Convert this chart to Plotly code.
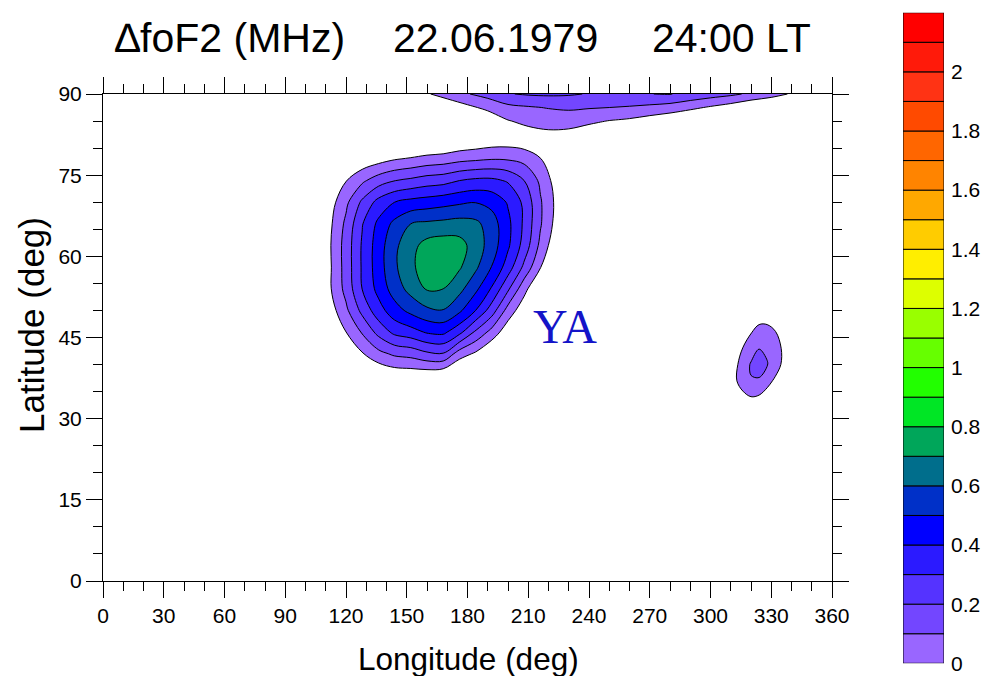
import plotly.graph_objects as go

W, H = 994, 676

# ---------------- colour levels (ΔfoF2, MHz) ----------------
LEVELS = [0.0, 0.1, 0.2, 0.3, 0.4, 0.5, 0.6, 0.7, 0.8, 0.9, 1.0, 1.1,
          1.2, 1.3, 1.4, 1.5, 1.6, 1.7, 1.8, 1.9, 2.0, 2.1, 2.2]
LEVEL_COLORS = ["#9966FF", "#7346FF", "#5533FF", "#2B1AFF", "#0000FF", "#0030C8",
                "#006E8C", "#00A65A", "#00E625", "#22FF00", "#66FF00", "#99FF00",
                "#DDFF00", "#FFEE00", "#FFCC00", "#FFA800", "#FF8400", "#FF6600",
                "#FF4A00", "#FF3314", "#FF1A0A", "#FF0000"]
CB_TICKS = [0, 0.2, 0.4, 0.6, 0.8, 1.0, 1.2, 1.4, 1.6, 1.8, 2.0]
CB_TICKTEXT = ["0", "0.2", "0.4", "0.6", "0.8", "1", "1.2", "1.4", "1.6", "1.8", "2"]

X_TICKS = [0, 30, 60, 90, 120, 150, 180, 210, 240, 270, 300, 330, 360]
Y_TICKS = [0, 15, 30, 45, 60, 75, 90]

# ---------------- main anomaly ----------------
BLOB_LON = [104, 112, 120, 128, 136, 144, 152, 160, 168, 176, 184, 192, 200, 208, 216, 224, 232]
BLOB_LAT = [34, 38, 42, 46, 50, 54, 58, 62, 66, 70, 74, 78, 82, 86]
BLOB_Z = [
    [-0.4, -0.4, -0.4, -0.33, -0.3, -0.27, -0.26, -0.26, -0.27, -0.3, -0.35, -0.4, -0.4, -0.4, -0.4, -0.4, -0.4],
    [-0.4, -0.32, -0.223, -0.145, -0.095, -0.068, -0.064, -0.066, -0.085, -0.145, -0.21, -0.3, -0.38, -0.4, -0.4, -0.4, -0.4],
    [-0.325, -0.211, -0.104, -0.008, 0.07, 0.119, 0.137, 0.182, 0.194, 0.05, -0.016, -0.109, -0.224, -0.355, -0.4, -0.4, -0.4],
    [-0.243, -0.119, -0.001, 0.11, 0.232, 0.326, 0.36, 0.411, 0.423, 0.33, 0.184, 0.064, -0.066, -0.2, -0.34, -0.4, -0.4],
    [-0.182, -0.05, 0.079, 0.228, 0.358, 0.459, 0.528, 0.58, 0.596, 0.52, 0.4, 0.25, 0.06, -0.066, -0.22, -0.375, -0.4],
    [-0.155, -0.013, 0.132, 0.302, 0.432, 0.548, 0.635, 0.71, 0.70, 0.63, 0.524, 0.389, 0.217, 0.034, -0.116, -0.267, -0.4],
    [-0.158, -0.015, 0.141, 0.312, 0.452, 0.584, 0.673, 0.766, 0.793, 0.712, 0.619, 0.496, 0.352, 0.176, 0.005, -0.146, -0.303],
    [-0.151, -0.01, 0.142, 0.312, 0.45, 0.578, 0.666, 0.738, 0.756, 0.74, 0.654, 0.552, 0.416, 0.261, 0.075, -0.078, -0.235],
    [-0.162, -0.021, 0.122, 0.294, 0.423, 0.527, 0.6, 0.619, 0.629, 0.641, 0.625, 0.548, 0.425, 0.282, 0.11, -0.037, -0.182],
    [-0.175, -0.044, 0.077, 0.219, 0.334, 0.4, 0.432, 0.447, 0.465, 0.484, 0.497, 0.47, 0.39, 0.278, 0.111, -0.025, -0.176],
    [-0.23, -0.112, -0.004, 0.081, 0.152, 0.198, 0.221, 0.249, 0.262, 0.3, 0.322, 0.323, 0.289, 0.2, 0.08, -0.046, -0.18],
    [-0.31, -0.205, -0.135, -0.075, -0.042, -0.008, 0.012, 0.035, 0.047, 0.07, 0.082, 0.095, 0.09, 0.068, 0.005, -0.094, -0.197],
    [-0.4, -0.35, -0.295, -0.26, -0.224, -0.213, -0.194, -0.165, -0.152, -0.118, -0.1, -0.08, -0.073, -0.085, -0.118, -0.175, -0.27],
    [-0.4, -0.4, -0.4, -0.4, -0.4, -0.4, -0.385, -0.364, -0.357, -0.316, -0.305, -0.27, -0.267, -0.25, -0.27, -0.31, -0.36],
]

# ---------------- polar band along the top edge ----------------
BAND_LON = [150, 160, 170, 180, 190, 200, 210, 220, 230, 240, 250, 260, 270, 280, 290, 300, 310, 320, 330, 340, 350]
BAND_LAT = [80, 82.5, 85, 87.5, 90]
BAND_Z = [
    [-0.3, -0.28, -0.27, -0.25, -0.24, -0.15, -0.1, -0.09, -0.1, -0.13, -0.18, -0.22, -0.27, -0.33, -0.4, -0.4, -0.4, -0.4, -0.4, -0.4, -0.4],
    [-0.25, -0.23, -0.22, -0.19, -0.17, -0.08, -0.04, -0.023, -0.03, -0.06, -0.1, -0.13, -0.17, -0.21, -0.26, -0.3, -0.3, -0.35, -0.35, -0.35, -0.35],
    [-0.2, -0.17, -0.16, -0.12, -0.08, -0.006, 0.026, 0.041, 0.041, 0.02, -0.004, -0.02, -0.05, -0.08, -0.12, -0.17, -0.2, -0.25, -0.25, -0.28, -0.3],
    [-0.15, -0.1, -0.08, -0.025, 0.026, 0.072, 0.09, 0.105, 0.115, 0.107, 0.1, 0.09, 0.075, 0.055, 0.024, -0.013, -0.05, -0.1, -0.12, -0.15, -0.18],
    [-0.08, -0.01, 0.045, 0.095, 0.135, 0.195, 0.21, 0.215, 0.21, 0.195, 0.195, 0.195, 0.199, 0.204, 0.17, 0.145, 0.12, 0.083, 0.04, -0.01, -0.05],
]

# ---------------- small anomaly near 320E ----------------
SMALL_LON = [308, 312, 316, 320, 324, 328, 332, 336, 340]
SMALL_LAT = [31, 34, 37, 40, 43, 46, 49, 52]
SMALL_Z = [
    [-0.15, -0.13, -0.11, -0.1, -0.1, -0.11, -0.13, -0.15, -0.17],
    [-0.1, -0.06, -0.02, -0.002, -0.012, -0.04, -0.07, -0.1, -0.13],
    [-0.06, -0.012, 0.035, 0.095, 0.09, 0.03, -0.016, -0.06, -0.1],
    [-0.09, -0.025, 0.042, 0.11, 0.14, 0.105, 0.043, -0.02, -0.085],
    [-0.095, -0.046, 0.002, 0.05, 0.098, 0.085, 0.037, -0.014, -0.065],
    [-0.1, -0.07, -0.035, -0.005, 0.03, 0.03, 0.003, -0.03, -0.06],
    [-0.13, -0.11, -0.09, -0.06, -0.035, -0.035, -0.05, -0.07, -0.1],
    [-0.16, -0.15, -0.13, -0.11, -0.09, -0.09, -0.1, -0.12, -0.14],
]

FIELDS = [(BLOB_LON, BLOB_LAT, BLOB_Z), (BAND_LON, BAND_LAT, BAND_Z), (SMALL_LON, SMALL_LAT, SMALL_Z)]

FONT = "Liberation Sans, Arial, Helvetica, sans-serif"

fig = go.Figure()

# Plotly shades the region that violates the constraint, so "<" shades z > level.
for lons, lats, z in FIELDS:
    zmax = max(max(r) for r in z)
    for lev, col in zip(LEVELS[:-1], LEVEL_COLORS):
        if zmax <= lev:
            continue
        fig.add_trace(go.Contour(
            x=lons, y=lats, z=z,
            contours=dict(type="constraint", operation="<", value=lev),
            fillcolor=col,
            line=dict(color="black", width=1, smoothing=1.0),
            showscale=False, hoverinfo="skip", xaxis="x", yaxis="y",
        ))

# colour bar drawn as stacked boxes
fig.add_trace(go.Bar(
    x=[0] * (len(LEVELS) - 1),
    y=[b - a for a, b in zip(LEVELS[:-1], LEVELS[1:])],
    base=LEVELS[:-1],
    width=1,
    marker=dict(color=LEVEL_COLORS, line=dict(color="black", width=1)),
    xaxis="x2", yaxis="y2", hoverinfo="skip", cliponaxis=False,
))

x0, x1 = 103 / W, 832 / W
y0, y1 = 1 - 581 / H, 1 - 94 / H

axis_common = dict(
    showline=True, linecolor="black", linewidth=1, mirror="allticks",
    ticks="outside", ticklen=16, tickwidth=1, tickcolor="black",
    showgrid=False, zeroline=False, automargin=False,
    tickfont=dict(family=FONT, size=21, color="black"),
)

fig.update_layout(
    width=W, height=H,
    margin=dict(l=0, r=0, t=0, b=0, autoexpand=False),
    paper_bgcolor="white", plot_bgcolor="white",
    showlegend=False,
    xaxis=dict(domain=[x0, x1], range=[0, 360], tickvals=X_TICKS, anchor="y",
               minor=dict(dtick=10, tick0=0, ticks="outside", ticklen=9, tickwidth=1, tickcolor="black"),
               **axis_common),
    yaxis=dict(domain=[y0, y1], range=[0, 90], tickvals=Y_TICKS, anchor="x",
               minor=dict(dtick=5, tick0=0, ticks="outside", ticklen=9, tickwidth=1, tickcolor="black"),
               **axis_common),
    xaxis2=dict(domain=[903 / W, 944 / W], range=[-0.5, 0.5], visible=False, anchor="y2"),
    yaxis2=dict(domain=[1 - 663.3 / H, 1 - 12.7 / H], range=[0, 2.2], anchor="x2", side="right",
                tickvals=CB_TICKS, ticktext=CB_TICKTEXT, ticks="", ticklabelstandoff=6,
                showgrid=False, zeroline=False, showline=False, automargin=False,
                tickfont=dict(family=FONT, size=21, color="black")),
)

def px_ann(text, px, py, size, family=FONT, color="black", angle=0):
    fig.add_annotation(text=text, x=px / W, y=1 - py / H, xref="paper", yref="paper",
                       showarrow=False, xanchor="center", yanchor="middle", textangle=angle,
                       font=dict(family=family, size=size, color=color))

px_ann("\u2206foF2 (MHz)", 230, 38, 41)
px_ann("22.06.1979", 495, 38, 41)
px_ann("24:00 LT", 731, 38, 41)
px_ann("Longitude (deg)", 468, 659, 31.5)
px_ann("Latitude (deg)", 31, 325, 35, angle=-90)

fig.add_annotation(text="YA", x=228, y=47, xref="x", yref="y", showarrow=False,
                   font=dict(family="Liberation Serif, Times New Roman, serif", size=48, color="#1414C8"))

fig.write_html("out.html")
